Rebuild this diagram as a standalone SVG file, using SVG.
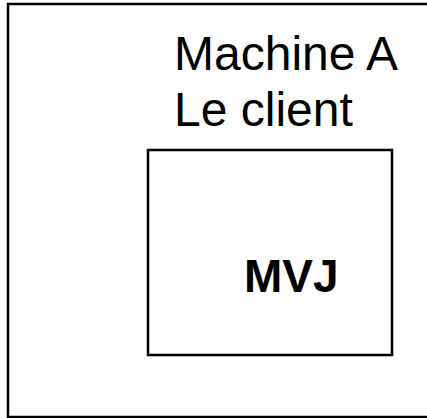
<svg xmlns="http://www.w3.org/2000/svg" width="427" height="418" viewBox="0 0 427 418">
<style>
.box{fill:none;stroke:#000;stroke-width:2.5}
.t{font-family:"Liberation Sans",Arial,sans-serif;fill:#000}
</style>
<rect width="427" height="418" fill="#fff"/>
<g id="machineA">
<rect class="box" x="8" y="4" width="432" height="413"/>
<text class="t" x="174" y="70" font-size="48">Machine A</text>
<text class="t" x="174" y="126" font-size="48">Le client</text>
</g>
<g id="mvj">
<rect class="box" x="148" y="150" width="244" height="205"/>
<text class="t" x="244" y="292" font-size="46" font-weight="bold">MVJ</text>
</g>
<g id="connectors"></g>
</svg>
